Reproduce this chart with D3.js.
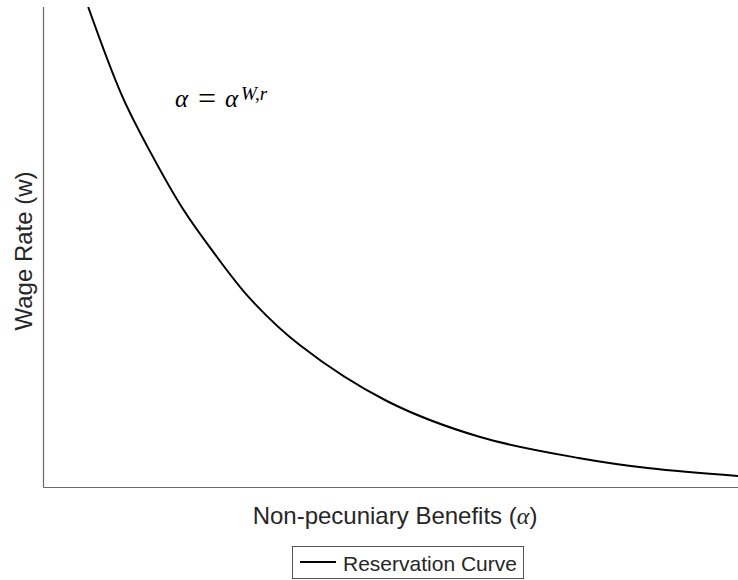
<!DOCTYPE html>
<html>
<head>
<meta charset="utf-8">
<script src="https://cdn.jsdelivr.net/npm/d3@7"></script>
<style>
  body { margin: 0; background: #fff; }
  text { font-family: "Liberation Sans", Arial, Helvetica, sans-serif; fill: #262626; }
</style>
</head>
<body>
<div id="chart"></div>
<script>
// reservation curve
var alpha = [1.03, 1.81, 2.45, 3.21, 3.88, 4.76, 5.91, 7.91, 10.06, 12.36, 13.97, 16.0];
var wage = [10.0, 8.15, 7.0, 5.8, 4.94, 3.93, 2.96, 1.80, 1.05, 0.61, 0.40, 0.24];
var seriesName = "Reservation Curve";

var W = 738, H = 580;
var mLeft = 43.5, mBottom = 487.5, mTop = 7, mRight = 738;

var svg = d3.select("#chart").append("svg")
  .attr("width", W).attr("height", H);

var x = d3.scaleLinear().domain([0, 16]).range([mLeft, mRight]);
var y = d3.scaleLinear().domain([0, 10]).range([mBottom, mTop]);

// axis lines only, no ticks
svg.append("line")
  .attr("x1", mLeft).attr("x2", mLeft)
  .attr("y1", y(10)).attr("y2", mBottom)
  .attr("stroke", "#6a6a6a").attr("stroke-width", 1.2);
svg.append("line")
  .attr("x1", mLeft).attr("x2", mRight)
  .attr("y1", mBottom).attr("y2", mBottom)
  .attr("stroke", "#6a6a6a").attr("stroke-width", 1.2);

var pts = alpha.map(function (a, i) { return [a, wage[i]]; });
var line = d3.line()
  .x(function (d) { return x(d[0]); })
  .y(function (d) { return y(d[1]); })
  .curve(d3.curveCatmullRom.alpha(0.5));

svg.append("path")
  .datum(pts)
  .attr("d", line)
  .attr("fill", "none")
  .attr("stroke", "#000")
  .attr("stroke-width", 2);

// annotation  alpha = alpha^{W,r}
var serif = "'Liberation Serif', 'DejaVu Serif', serif";
var ann = svg.append("g");
ann.append("text").attr("x", 175).attr("y", 107)
  .style("font-size", "25px").style("font-style", "italic").style("fill", "#000")
  .style("font-family", serif).text("\u03b1");
ann.append("text").attr("x", 198).attr("y", 109)
  .style("font-size", "32px").style("fill", "#000")
  .style("font-family", serif).text("=");
ann.append("text").attr("x", 225).attr("y", 107)
  .style("font-size", "25px").style("font-style", "italic").style("fill", "#000")
  .style("font-family", serif).text("\u03b1");
ann.append("text").attr("x", 241).attr("y", 100)
  .style("font-size", "19px").style("font-style", "italic").style("fill", "#000")
  .style("font-family", serif).text("W,r");

// axis labels
var xl = svg.append("text")
  .attr("x", 395).attr("y", 524)
  .attr("text-anchor", "middle")
  .style("font-size", "24px");
xl.append("tspan").text("Non-pecuniary Benefits (");
xl.append("tspan")
  .style("font-family", serif)
  .style("font-style", "italic").text("\u03b1");
xl.append("tspan").text(")");

svg.append("text")
  .attr("transform", "translate(32,251) rotate(-90)")
  .attr("text-anchor", "middle")
  .style("font-size", "24px")
  .text("Wage Rate (w)");

// legend
var lg = svg.append("g");
lg.append("rect")
  .attr("x", 292.5).attr("y", 546.5)
  .attr("width", 231).attr("height", 32)
  .attr("fill", "#fff").attr("stroke", "#555").attr("stroke-width", 1);
lg.append("line")
  .attr("x1", 300).attr("x2", 336)
  .attr("y1", 562).attr("y2", 562)
  .attr("stroke", "#000").attr("stroke-width", 2);
lg.append("text")
  .attr("x", 343).attr("y", 571)
  .style("font-size", "21px")
  .text(seriesName);
</script>
</body>
</html>
